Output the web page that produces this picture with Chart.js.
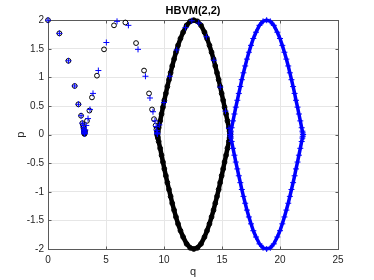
<!DOCTYPE html>
<html>
<head>
<meta charset="utf-8">
<script src="https://cdn.jsdelivr.net/npm/chart.js@4.4.1/dist/chart.umd.min.js"></script>
<style>
  html, body { margin: 0; padding: 0; background: #fff; }
</style>
</head>
<body>
<canvas id="chart" width="374" height="280"></canvas>
<script>
// tick values
const xTicks = [0, 5, 10, 15, 20, 25];
const yTicks = [-2, -1.5, -1, -0.5, 0, 0.5, 1, 1.5, 2];
const yTickLabels = ['-2', '-1.5', '-1', '-0.5', '0', '0.5', '1', '1.5', '2'];

// numerical solution (black o): first part up to q = 3*pi
const numArcQ = [0, 0.98, 1.76, 2.30, 2.62, 2.85, 2.96, 3.02, 3.06, 3.09,
  3.11, 3.12, 3.13, 3.14, 3.14, 3.15, 3.20, 3.36, 3.57, 3.79,
  4.22, 4.83, 5.69, 6.67, 7.59, 8.28, 8.71, 8.97, 9.14, 9.28,
  9.35, 9.39];
const numArcP = [2.00, 1.77, 1.29, 0.85, 0.53, 0.33, 0.20, 0.16, 0.12, 0.09,
  0.07, 0.05, 0.04, 0.03, 0.02, 0.01, 0.06, 0.24, 0.42, 0.65,
  1.03, 1.49, 1.91, 1.96, 1.60, 1.12, 0.72, 0.44, 0.27, 0.16,
  0.09, 0.05];

// reference solution (blue +): first part, plus the few visible on the black loop
const refArcQ = [0, 0.98, 1.76, 2.30, 2.62, 2.85, 2.96, 3.02, 3.06, 3.09,
  3.11, 3.12, 3.13, 3.14, 3.14, 3.15, 3.17, 3.22, 3.30, 3.45,
  3.62, 3.88, 4.34, 5.03, 5.95, 6.93, 7.76, 8.40, 8.79, 9.05,
  9.22, 9.32, 9.38, 9.41, 9.42, 9.43,
  9.60, 10.00, 10.50, 11.10, 11.85, 12.40, 13.00, 13.65, 14.30, 14.85, 15.30, 15.60];
const refArcP = [2.00, 1.77, 1.29, 0.85, 0.53, 0.33, 0.20, 0.16, 0.12, 0.09,
  0.07, 0.05, 0.04, 0.03, 0.02, 0.01, 0.03, 0.08, 0.16, 0.28,
  0.44, 0.72, 1.12, 1.61, 1.98, 1.91, 1.49, 1.02, 0.64, 0.40,
  0.24, 0.14, 0.07, 0.04, 0.02, 0.01,
  0.17, 0.56, 1.02, 1.48, 1.87, 1.99, 1.95, 1.71, 1.30, 0.83, 0.41, 0.11];

// closed loops
const blackLoopQ = [9.42, 9.45, 9.48, 9.54, 9.67, 9.79, 9.91, 10.03, 10.16, 10.29,
  10.43, 10.57, 10.71, 10.87, 11.03, 11.21, 11.42, 11.65, 11.95, 12.26,
  12.57, 12.88, 13.19, 13.49, 13.71, 13.92, 14.10, 14.27, 14.42, 14.57,
  14.71, 14.84, 14.97, 15.10, 15.22, 15.35, 15.47, 15.59, 15.65, 15.68, 15.71];
const blueLoopQ = [15.71, 15.74, 15.77, 15.83, 15.95, 16.07, 16.19, 16.32, 16.45, 16.58,
  16.71, 16.85, 17.00, 17.15, 17.32, 17.50, 17.70, 17.93, 18.23, 18.54,
  18.85, 19.16, 19.47, 19.77, 20.00, 20.20, 20.38, 20.55, 20.71, 20.85,
  20.99, 21.13, 21.26, 21.38, 21.51, 21.63, 21.75, 21.87, 21.93, 21.96, 21.99];
const loopUpP = [0, 0.03, 0.06, 0.12, 0.24, 0.36, 0.48, 0.60, 0.72, 0.84,
  0.96, 1.08, 1.20, 1.32, 1.44, 1.56, 1.68, 1.79, 1.91, 1.98,
  2.00, 1.98, 1.91, 1.79, 1.68, 1.56, 1.44, 1.32, 1.20, 1.08,
  0.96, 0.84, 0.72, 0.60, 0.48, 0.36, 0.24, 0.12, 0.06, 0.03, 0];
const loopLowP = [0, -0.03, -0.06, -0.12, -0.24, -0.36, -0.48, -0.60, -0.72, -0.84,
  -0.96, -1.08, -1.20, -1.32, -1.44, -1.56, -1.68, -1.79, -1.91, -1.98,
  -2.00, -1.98, -1.91, -1.79, -1.68, -1.56, -1.44, -1.32, -1.20, -1.08,
  -0.96, -0.84, -0.72, -0.60, -0.48, -0.36, -0.24, -0.12, -0.06, -0.03, 0];

const pts = (qs, ps) => qs.map((q, i) => ({ x: q, y: ps[i] }));

const FONT = "'Liberation Sans', Arial, Helvetica, sans-serif";
const AXIS = '#5a5a5a';

function blackSet(data, line) {
  return {
    data: data,
    showLine: line,
    borderColor: '#000',
    borderWidth: line ? 4.5 : 0,
    pointStyle: 'circle',
    pointRadius: 2.4,
    pointBorderWidth: 1,
    pointBorderColor: '#000',
    pointBackgroundColor: 'rgba(0,0,0,0)',
    clip: false,
    order: 2
  };
}
function blueSet(data, line) {
  return {
    data: data,
    showLine: line,
    borderColor: '#0000ff',
    borderWidth: line ? 3.5 : 0,
    pointStyle: 'cross',
    pointRadius: 3,
    pointBorderWidth: 1,
    pointBorderColor: '#0000ff',
    clip: false,
    order: 1
  };
}

// box round the axes and MATLAB-like inward ticks
const frame = {
  id: 'frame',
  beforeDatasetsDraw(chart) {
    const { ctx, chartArea: a, scales } = chart;
    const l = Math.round(a.left) + 0.5, r = Math.round(a.right) + 0.5;
    const t = Math.round(a.top) + 0.5, b = Math.round(a.bottom) + 0.5;
    ctx.save();
    ctx.strokeStyle = AXIS;
    ctx.lineWidth = 1;
    ctx.beginPath();
    xTicks.forEach(v => {
      const x = Math.round(scales.x.getPixelForValue(v)) + 0.5;
      ctx.moveTo(x, b); ctx.lineTo(x, b - 3);
      ctx.moveTo(x, t); ctx.lineTo(x, t + 3);
    });
    yTicks.forEach(v => {
      const y = Math.round(scales.y.getPixelForValue(v)) + 0.5;
      ctx.moveTo(l, y); ctx.lineTo(l + 3, y);
      ctx.moveTo(r, y); ctx.lineTo(r - 3, y);
    });
    ctx.stroke();
    ctx.strokeRect(l, t, r - l, b - t);
    ctx.restore();
  }
};

new Chart(document.getElementById('chart'), {
  type: 'scatter',
  data: {
    datasets: [
      blackSet(pts(numArcQ, numArcP), false),
      blackSet(pts(blackLoopQ, loopUpP), true),
      blackSet(pts(blackLoopQ, loopLowP), true),
      blueSet(pts(refArcQ, refArcP), false),
      blueSet(pts(blueLoopQ, loopUpP), true),
      blueSet(pts(blueLoopQ, loopLowP), true)
    ]
  },
  options: {
    responsive: false,
    animation: false,
    events: [],
    layout: { padding: { left: 0, right: 36, top: 0, bottom: 0 } },
    plugins: {
      legend: { display: false },
      tooltip: { enabled: false },
      title: {
        display: true,
        text: 'HBVM(2,2)',
        fullSize: false,
        color: '#000',
        font: { family: FONT, size: 11, weight: 'bold' },
        padding: { top: 4, bottom: 3 }
      }
    },
    scales: {
      x: {
        type: 'linear',
        min: 0,
        max: 25,
        afterFit: s => { s.height = 31; },
        afterBuildTicks: s => { s.ticks = xTicks.map(v => ({ value: v })); },
        ticks: { color: '#262626', font: { family: FONT, size: 10 }, padding: 5, maxRotation: 0 },
        grid: { color: '#e6e6e6', drawTicks: false },
        border: { display: false },
        title: { display: true, text: 'q', color: '#262626', font: { family: FONT, size: 11 }, padding: { top: 0, bottom: 1 } }
      },
      y: {
        type: 'linear',
        min: -2,
        max: 2,
        afterFit: s => { s.width = 48; },
        afterBuildTicks: s => { s.ticks = yTicks.map(v => ({ value: v })); },
        ticks: {
          color: '#262626',
          font: { family: FONT, size: 10 },
          padding: 4,
          callback: v => yTickLabels[yTicks.indexOf(v)]
        },
        grid: { color: '#e6e6e6', drawTicks: false },
        border: { display: false },
        title: { display: true, text: 'p', color: '#262626', font: { family: FONT, size: 11 }, padding: { top: 14, bottom: 0 } }
      }
    }
  },
  plugins: [frame]
});
</script>
</body>
</html>
